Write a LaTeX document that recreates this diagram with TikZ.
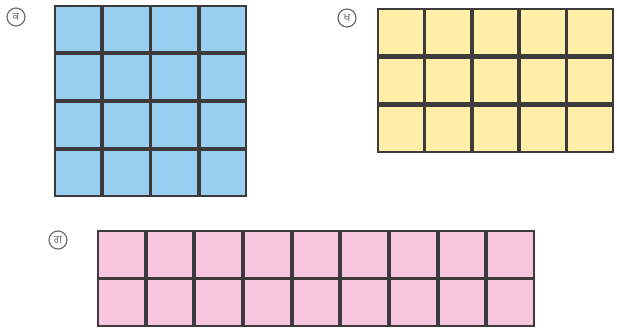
\documentclass[tikz,border=0pt]{standalone}
\usepackage{fontspec}
\newfontfamily\gurfont[Script=Gurmukhi]{Hind Jalandhar}
\definecolor{cellblue}{RGB}{152,206,240}
\definecolor{cellyellow}{RGB}{255,238,168}
\definecolor{cellpink}{RGB}{248,198,220}
\definecolor{edge}{RGB}{60,58,58}
\definecolor{lab}{RGB}{110,110,110}
\tikzset{
  cellbox/.style={draw=edge, line width=2.2pt, minimum width=#1, minimum height=#1, inner sep=0pt, outer sep=0pt},
  circlab/.style={circle, draw=lab, line width=1.2pt, text=lab, minimum size=18pt, inner sep=0pt, font=\gurfont\fontsize{11}{11}\selectfont}
}
\begin{document}
\begin{tikzpicture}[x=1pt,y=-1pt]
\useasboundingbox (0,0) rectangle (617,330);
% labels
\node[circlab] (la) at (16,17) {ਕ};
\node[circlab] (lb) at (347,18) {ਖ};
\node[circlab] (lc) at (58,240) {ਗ};
% blue 4x4 grid: x 54..247, y 5..197
\foreach \i in {0,...,3}{
  \foreach \j in {0,...,3}{
    \node[cellbox=46.6pt, fill=cellblue] (a-\i-\j) at ({54+48.25*(\j+0.5)},{5+48*(\i+0.5)}) {};
  }
}
% yellow 3x5 grid: x 377..614, y 8..153
\foreach \i in {0,...,2}{
  \foreach \j in {0,...,4}{
    \node[cellbox=46pt, fill=cellyellow] (b-\i-\j) at ({377+47.4*(\j+0.5)},{8+48.3*(\i+0.5)}) {};
  }
}
% pink 2x9 grid: x 97..535, y 230..327
\foreach \i in {0,...,1}{
  \foreach \j in {0,...,8}{
    \node[cellbox=46.9pt, fill=cellpink] (c-\i-\j) at ({97+48.67*(\j+0.5)},{230+48.5*(\i+0.5)}) {};
  }
}
\end{tikzpicture}
\end{document}
